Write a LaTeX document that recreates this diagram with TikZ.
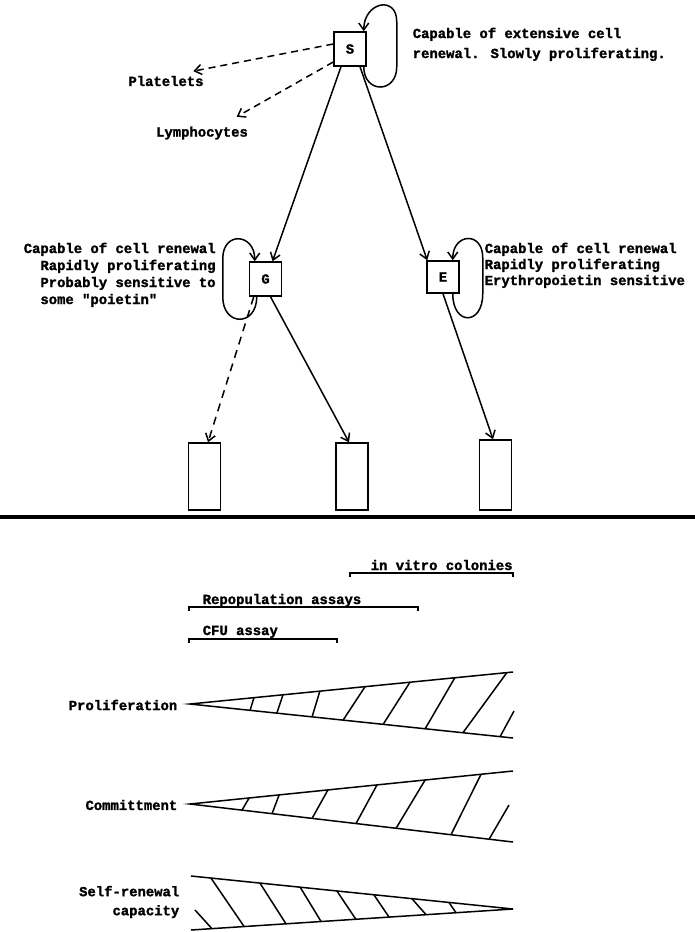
\documentclass[tikz,border=0pt]{standalone}
\usepackage{fontspec}
\newfontfamily\typew{Liberation Mono}[FakeBold=1.6]
\newcommand\tyfont[1]{\typew\bfseries\fontsize{13.9}{#1}\selectfont}
\usetikzlibrary{arrows.meta,calc}
\begin{document}
\begin{tikzpicture}[x=1pt,y=-1pt,line width=1.5pt,
  >={Straight Barb[length=7pt,width=10pt]},
  box/.style={draw,inner sep=0pt,minimum width=32pt,minimum height=34pt,font=\tyfont{17}},
  tall/.style={draw,inner sep=0pt,minimum width=32pt,minimum height=67pt},
  txt/.style={inner sep=0pt,font=\tyfont{17},align=left},
  dsh/.style={dash pattern=on 7pt off 5pt}]
\useasboundingbox (0,0) rectangle (695,932);

% boxes
\node[box] (S) at (350,49) {S};
\node[box] (G) at (265.5,279) {G};
\node[box,minimum height=32pt] (E) at (443,277) {E};
\node[tall] (r1) at (204.5,476.5) {};
\node[tall] (r2) at (352,476.5) {};
\node[tall,minimum height=70pt] (r3) at (495.5,475) {};

% texts
\node[txt,anchor=north west,font=\tyfont{20}] (st) at (412,27) {Capable of extensive cell\\renewal. Slowly proliferating.};
\node[txt] (plat) at (166,81) {Platelets};
\node[txt] (lym) at (202,133) {Lymphocytes};
\node[txt,anchor=north west] (gt) at (23,242) {Capable of cell renewal\\\hphantom{xx}Rapidly proliferating\\\hphantom{xx}Probably sensitive to\\\hphantom{xx}some "poietin"};
\node[txt,anchor=north west,font=\tyfont{16}] (et) at (484,242) {Capable of cell renewal\\Rapidly proliferating\\Erythropoietin sensitive};

% connectors
\draw[dsh,->] ($(S.west)+(0,-5)$) -- ($(plat.north east)+(-11,-4)$);
\draw[dsh,->] ($(S.west)+(0,13)$) -- ($(lym.north east)+(-12,-9)$);
\draw[->] ($(S.south)+(-9,0)$) -- ($(G.north)+(7,0)$);
\draw[->] ($(S.south)+(10,0)$) -- ($(E.north west)+(1,0)$);
\draw[->] ($(S.south east)+(-3,0)$) .. controls +(0,27) and +(0,27) .. ++(33,0)
   -- ++(0,-45) .. controls +(0,-27) and +(0,-29) .. ($(S.north east)+(-3,0)$);
\draw[->] ($(G.south west)+(8,0)$) .. controls +(0,30) and +(0,30) .. ++(-34,0)
   -- ++(0,-38) .. controls +(0,-28) and +(0,-28) .. ($(G.north west)+(6,0)$);
\draw[->] ($(E.south east)+(-7,0)$) .. controls +(0,32) and +(0,32) .. ++(30,0)
   -- ++(0,-36) .. controls +(0,-27) and +(0,-27) .. ($(E.north east)+(-7,0)$);
\draw[->] ($(G.south)+(5,0)$) -- ($(r2.north)+(-3,0)$);
\draw[->,dash pattern=on 8pt off 6pt] ($(G.south west)+(5,0)$) -- ($(r1.north)+(3.5,0)$);
\draw[->] (E.south) -- ($(r3.north)+(-2.5,0)$);

% separator
\draw[line width=4pt] (0,517) -- (695,517);

% assay brackets
\node[txt,anchor=base west] (iv) at (370,570) {in vitro colonies};
\draw (350,577) -- (350,573) -- (513,573) -- (513,577);
\node[txt,anchor=base west] (rp) at (202,604) {Repopulation assays};
\draw (189,611) -- (189,607) -- (418,607) -- (418,611);
\node[txt,anchor=base west] (cfu) at (202,635) {CFU assay};
\draw (189,643) -- (189,639) -- (337,639) -- (337,643);

% labels
\node[txt,anchor=east] (lp) at (178,705) {Proliferation};
\node[txt,anchor=east] (lc) at (178,805) {Committment};
\node[txt,anchor=east,align=right,font=\tyfont{19}] (ls) at (180,902) {Self-renewal\\capacity};

% proliferation wedge
\coordinate (pA) at (190,704); \coordinate (pT) at (513,672); \coordinate (pB) at (513,738);
\draw (pT) -- (pA) -- (pB);
\foreach \fb/\ft in {0.186/0.198,0.269/0.288,0.378/0.402,0.474/0.542,0.598/0.681,0.728/0.820,0.845/0.981}
  \draw ($(pA)!\fb!(pB)$) -- ($(pA)!\ft!(pT)$);
\draw ($(pA)!0.96!(pB)$) -- (514,711);

% commitment wedge
\coordinate (cA) at (190,804); \coordinate (cT) at (513,771); \coordinate (cB) at (513,842);
\draw (cT) -- (cA) -- (cB);
\foreach \fb/\ft in {0.161/0.183,0.254/0.276,0.378/0.427,0.514/0.579,0.638/0.728,0.808/0.901}
  \draw ($(cA)!\fb!(cB)$) -- ($(cA)!\ft!(cT)$);
\draw ($(cA)!0.926!(cB)$) -- (509,805);

% self-renewal wedge
\coordinate (sT) at (191,876); \coordinate (sB) at (191,930); \coordinate (sA) at (513,909);
\draw (sT) -- (sA) -- (sB);
\foreach \ft/\fb in {0.062/0.165,0.214/0.295,0.339/0.404,0.453/0.512,0.568/0.615,0.686/0.730,0.801/0.823}
  \draw ($(sT)!\ft!(sA)$) -- ($(sB)!\fb!(sA)$);
\draw (195,910) -- ($(sB)!0.065!(sA)$);
\end{tikzpicture}
\end{document}
